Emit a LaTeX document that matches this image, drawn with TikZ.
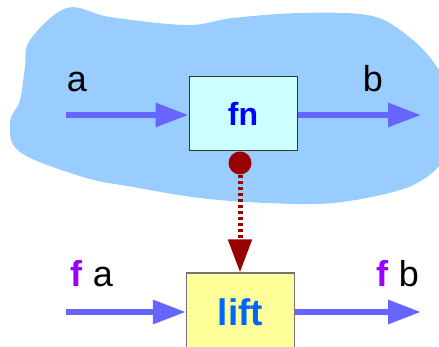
\documentclass[tikz,border=0pt]{standalone}
\usepackage{fontspec}
\setmainfont{Liberation Sans}
\usetikzlibrary{arrows.meta}
\definecolor{blobc}{HTML}{99CCFF}
\definecolor{arrc}{HTML}{6666FF}
\definecolor{fnfill}{HTML}{CCFFFF}
\definecolor{liftfill}{HTML}{FFFF99}
\definecolor{darkred}{HTML}{990000}
\definecolor{purp}{HTML}{9900FF}
\definecolor{liftblue}{HTML}{0066FF}
\tikzset{
  flow/.style={draw=arrc, line width=6pt, -{Triangle[length=33pt,width=23pt]}},
  lbl/.style={font=\fontsize{36}{40}\selectfont, inner sep=0pt, anchor=base},
  fnbox/.style={draw=black!80, line width=1pt, fill=fnfill, minimum width=108pt, minimum height=74pt, inner sep=0pt},
  liftbox/.style={draw=black!55, line width=1.2pt, fill=liftfill, minimum width=108pt, minimum height=78pt, inner sep=0pt},
}
\begin{document}
\begin{tikzpicture}[x=1pt,y=-1pt]
\useasboundingbox (0,0) rectangle (439,347);
\clip (0,0) rectangle (439,347);
\fill[blobc] plot[smooth cycle, tension=0.6] coordinates {
(30,40) (67,8) (110,17) (187,25) (233,18) (300,13) (367,15) (400,30) (432,60)
(452,100) (447,150) (433,172) (400,190) (333,203) (267,203) (200,198) (133,187)
(83,177) (20,152) (10,123) (20,100) (25,67)};
\node[fnbox] (fn) at (243,114) {\fontsize{32}{36}\selectfont\bfseries\color{blue}fn};
\node[liftbox] (lift) at (240.5,312) {\fontsize{37}{40}\selectfont\bfseries\color{liftblue}lift};
\coordinate (a0) at (66,115);
\coordinate (b1) at (421,115);
\coordinate (fa0) at (66,312);
\coordinate (fb1) at (421,312);
\draw[flow] (a0) -- (fn.west |- a0);
\draw[flow] (fn.east |- b1) -- (b1);
\draw[flow] (fa0) -- (lift.west |- fa0);
\draw[flow] (lift.east |- fb1) -- (fb1);
\node[lbl] (la) at (77,92) {a};
\node[lbl] (lb) at (373,92) {b};
\node[lbl] (lfa) at (92,287) {\textcolor{purp}{\bfseries f} a};
\node[lbl] (lfb) at (398,287) {\textcolor{purp}{\bfseries f} b};
\coordinate (dotc) at (240,163);
\coordinate (dotend) at (240,242);
\draw[darkred, line width=5pt, dash pattern=on 3pt off 3pt] (dotc) -- (dotend);
\draw[darkred, line width=5pt, -{Triangle[length=33pt,width=23pt]}] (dotend) -- (lift.north -| dotc);
\fill[darkred] (dotc) circle (11.5pt);
\end{tikzpicture}
\end{document}
